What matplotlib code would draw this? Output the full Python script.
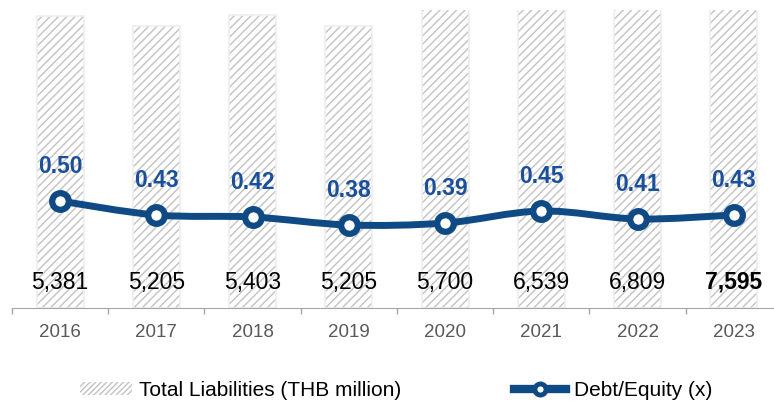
import numpy as np
import matplotlib
matplotlib.use('Agg')
import matplotlib.pyplot as plt
from matplotlib.path import Path
from matplotlib.patches import PathPatch, Patch
from matplotlib.lines import Line2D

plt.rcParams['font.family'] = ['Liberation Sans', 'DejaVu Sans']
plt.rcParams['hatch.linewidth'] = 1.0

years = ['2016', '2017', '2018', '2019', '2020', '2021', '2022', '2023']
liabilities = [5381, 5205, 5403, 5205, 5700, 6539, 6809, 7595]
de_ratio = [0.50, 0.43, 0.42, 0.38, 0.39, 0.45, 0.41, 0.43]

blue = '#0f4a85'
label_blue = '#1a4f9c'
hatch_gray = '#c2c2c2'

fig = plt.figure(figsize=(7.74, 4.01), dpi=100)
ax = fig.add_axes([12/774, 93/401, 770/774, 298/401])
x = np.arange(len(years))

# hatched bars (hatch colour comes from edgecolor), then a thin light outline
ax.bar(x, liabilities, width=0.49, color='white', edgecolor=hatch_gray, hatch='////', linewidth=0)
ax.bar(x, liabilities, width=0.49, color='none', edgecolor='#eeeeee', linewidth=1.2)
ax.set_ylim(0, 5500)
ax.set_xlim(-0.5, 7.5)

for i, v in enumerate(liabilities):
    ax.annotate(f'{v:,}', (x[i], 0), xytext=(0, 18.5), textcoords='offset points',
                ha='center', va='center', fontsize=16.5, color='black',
                fontweight='bold' if i == len(years) - 1 else 'normal')

ax.set_xticks(x)
ax.set_xticklabels(years, fontsize=13.5, color='#595959')
ax.set_xticks(np.arange(-0.5, 8, 1), minor=True)
ax.tick_params(axis='x', which='major', length=0, pad=11.5)
ax.tick_params(axis='x', which='minor', length=4, color='#a6a6a6', width=1)
ax.set_yticks([])
for s in ['top', 'right', 'left']:
    ax.spines[s].set_visible(False)
ax.spines['bottom'].set_color('#a6a6a6')

# debt/equity on secondary axis, smooth line like Excel
ax2 = ax.twinx()
ax2.set_ylim(-0.035, 1.455)
ax2.set_axis_off()
pts = np.column_stack([x, de_ratio]).astype(float)
verts = [pts[0]]
codes = [Path.MOVETO]
n = len(pts)
for i in range(n - 1):
    p0 = pts[max(i - 1, 0)]
    p1 = pts[i]
    p2 = pts[i + 1]
    p3 = pts[min(i + 2, n - 1)]
    verts += [p1 + (p2 - p0) / 6, p2 - (p3 - p1) / 6, p2]
    codes += [Path.CURVE4] * 3
ax2.add_patch(PathPatch(Path(verts, codes), facecolor='none', edgecolor=blue,
                        linewidth=5, capstyle='round', joinstyle='round'))
ax2.plot(x, de_ratio, linestyle='none', marker='o', markersize=12,
         markerfacecolor='white', markeredgecolor=blue, markeredgewidth=4.5)
for i, v in enumerate(de_ratio):
    ax2.annotate(f'{v:.2f}', (x[i], v), xytext=(0, 25), textcoords='offset points',
                 ha='center', va='center', fontsize=16.5, fontweight='bold', color=label_blue)

handles = [Patch(facecolor='white', edgecolor=hatch_gray, hatch='//////', linewidth=0),
           Line2D([0], [0], color=blue, linewidth=6, marker='o', markersize=8,
                  markerfacecolor='white', markeredgecolor=blue, markeredgewidth=3.5)]
fig.legend(handles, ['Total Liabilities (THB million)', 'Debt/Equity (x)'],
           loc='center left', bbox_to_anchor=(80/774, 0.027), ncol=2, frameon=False,
           fontsize=15, handlelength=2.5, handleheight=0.6, handletextpad=0.35,
           columnspacing=5.4, borderpad=0, borderaxespad=0)

plt.savefig('out.png', dpi=100)
